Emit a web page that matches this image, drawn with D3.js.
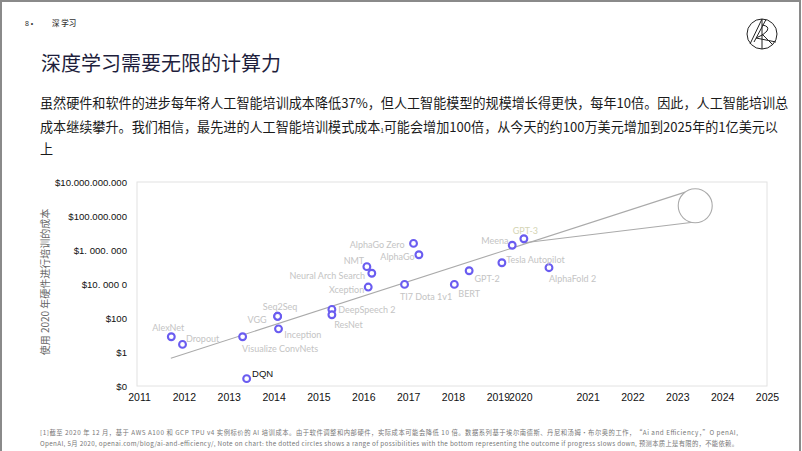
<!DOCTYPE html>
<html><head><meta charset="utf-8">
<script src="https://cdn.jsdelivr.net/npm/d3@7/dist/d3.min.js"></script>
<style>body{margin:0;background:#fff;}svg{display:block;}</style>
</head><body>
<svg id="c" width="802" height="451"></svg>
<script>
// ---- data ----
const models = ["AlexNet","Dropout","Visualize ConvNets","DQN","VGG","Seq2Seq","Inception","DeepSpeech 2","ResNet","Xception","Neural Arch Search","NMT","AlphaGo Zero","AlphaGo","TI7 Dota 1v1","BERT","GPT-2","Tesla Autopilot","Meena","GPT-3","AlphaFold 2"];
const years  = [2011.72,2011.97,2013.31,2013.40,2014.09,2014.09,2014.11,2015.30,2015.30,2016.11,2016.19,2016.08,2017.12,2017.24,2016.92,2018.03,2018.36,2019.09,2019.32,2019.58,2020.14];
const costs  = [7.9,2.8,7.9,0.027,126,126,23,320,155,6600,43000,105000,2450000,525000,9500,9500,60000,178000,1900000,4600000,91000];
const trendYears = [2011.71, 2023.28];
const trendCosts = [0.43, 3.1e9];
const branchYears = [2019.55, 2023.35];
const branchCosts = [2.6e6, 4.3e7];
const projYear = 2023.4, projCost = 4.0e8;
const yTickValues = [1e10,1e8,1e6,1e4,1e2,1,0.01];
const yTickLabels = ["$10.000.000.000","$100.000.000","$1. 000. 000","$10. 000 0","$100","$1","$0"];
const xTickValues = [2011,2012,2013,2014,2015,2016,2017,2018,2019,2019.5,2021,2022,2023,2024,2025];
const xTickLabels = ["2011","2012","2013","2014","2015","2016","2017","2018","2019","2020","2021","2022","2023","2024","2025"];

// label placement (layout only): [dx, dy, anchor]
const place = {
  "AlexNet":[-3,-9.7,"middle"], "Dropout":[3.4,-6.3,"start"], "Visualize ConvNets":[-0.6,11.3,"start"],
  "DQN":[5.4,-4.7,"start"], "VGG":[-11,3.4,"end"], "Seq2Seq":[2.5,-10,"middle"], "Inception":[5.7,5.6,"start"],
  "DeepSpeech 2":[6.3,0,"start"], "ResNet":[2.3,9.6,"start"], "Xception":[-4,2.3,"end"],
  "Neural Arch Search":[-6.7,2.4,"end"], "NMT":[-2.7,-5.7,"end"], "AlphaGo Zero":[-9,1.4,"end"],
  "AlphaGo":[-4.3,2,"end"], "TI7 Dota 1v1":[-4.6,12.4,"start"], "BERT":[4,9,"start"], "GPT-2":[5.3,7.6,"start"],
  "Tesla Autopilot":[4.4,-3.4,"start"], "Meena":[-3.7,-4.3,"end"], "GPT-3":[1.5,-8.7,"middle"], "AlphaFold 2":[0,11,"start"]
};

const svg = d3.select("#c");
svg.append("rect").attr("x",1).attr("y",1).attr("width",799).attr("height",460).attr("fill","none").attr("stroke","#8a8a8a").attr("stroke-width",2);

// header
svg.append("text").attr("x",25).attr("y",26).attr("font-family","Liberation Sans, Arial").attr("font-size",7).attr("fill","#333").text("8 •");
svg.append("text").attr("x",52).attr("y",26).attr("font-family","Noto Sans CJK SC").attr("font-size",7.5).attr("font-weight",500).attr("fill","#333").text("深 学习");

// logo
const lg = svg.append("g").attr("fill","none").attr("stroke","#222").attr("stroke-width",1);
lg.append("circle").attr("cx",762).attr("cy",34).attr("r",15);
lg.append("line").attr("x1",762).attr("y1",19).attr("x2",762).attr("y2",49);
lg.append("line").attr("x1",750).attr("y1",44).attr("x2",762).attr("y2",19);
lg.append("line").attr("x1",754).attr("y1",42).attr("x2",766).attr("y2",19.5);
lg.append("path").attr("d","M762,25 Q770,26 767,31 Q764,35 756,38 L776,42");
lg.append("line").attr("x1",762).attr("y1",34).attr("x2",773).attr("y2",45);

// title
svg.append("text").attr("x",41).attr("y",70.5).attr("font-family","Noto Sans CJK SC").attr("font-size",20).attr("fill","#1e1e3c").text("深度学习需要无限的计算力");

// body
const body = svg.append("g").attr("font-family","Noto Sans CJK SC").attr("font-size",13.1).attr("fill","#1a1a1a");
body.append("text").attr("x",40).attr("y",108).text("虽然硬件和软件的进步每年将人工智能培训成本降低37%，但人工智能模型的规模增长得更快，每年10倍。因此，人工智能培训总");
const l2 = body.append("text").attr("x",40).attr("y",132);
l2.append("tspan").text("成本继续攀升。我们相信，最先进的人工智能培训模式成本");
l2.append("tspan").attr("font-size",6).attr("dy",1).text("1");
l2.append("tspan").attr("dy",-1).text("可能会增加100倍，从今天的约100万美元增加到2025年的1亿美元以");
body.append("text").attr("x",40).attr("y",154).text("上");

// scales
const x = d3.scaleLinear().domain([2011,2025]).range([139,767]);
const y = d3.scaleLog().domain([0.01,1e10]).range([386,182]);

// frame
svg.append("rect").attr("x",137).attr("y",182).attr("width",630).attr("height",204).attr("fill","none").attr("stroke","#e2e2e2").attr("stroke-width",1);

// y axis
const yAxis = d3.axisLeft(y).tickValues(yTickValues).tickSize(0).tickPadding(0)
  .tickFormat((d,i)=>yTickLabels[i]);
const ya = svg.append("g").attr("transform","translate(127,0)").call(yAxis);
ya.select(".domain").remove();
ya.selectAll("text").attr("font-family","Liberation Sans, Arial").attr("font-size",9.6).attr("fill","#111");

// x axis
const xAxis = d3.axisBottom(x).tickValues(xTickValues).tickSize(0).tickPadding(0)
  .tickFormat((d,i)=>xTickLabels[i]);
const xa = svg.append("g").attr("transform","translate(0,394)").call(xAxis);
xa.select(".domain").remove();
xa.selectAll("text").attr("font-family","Liberation Sans, Arial").attr("font-size",10.5).attr("fill","#111");

// y title
svg.append("text").attr("transform","translate(49,282) rotate(-90)").attr("text-anchor","middle")
  .attr("font-family","Noto Sans CJK SC").attr("font-size",10).attr("fill","#666").text("使用 2020 年硬件进行培训的成本");

// trend lines
const line = d3.line().x(d=>x(d[0])).y(d=>y(d[1]));
svg.append("path").attr("d",line(d3.zip(trendYears,trendCosts))).attr("fill","none").attr("stroke","#aaa").attr("stroke-width",1.1);
svg.append("path").attr("d",line(d3.zip(branchYears,branchCosts))).attr("fill","none").attr("stroke","#aaa").attr("stroke-width",1.1);
svg.append("circle").attr("cx",x(projYear)).attr("cy",y(projCost)).attr("r",17).attr("fill","#fff").attr("stroke","#aaa").attr("stroke-width",1.1);

// points
const data = models.map((m,i)=>({m, yr:years[i], c:costs[i]}));
svg.append("g").selectAll("circle").data(data).join("circle")
  .attr("cx",d=>x(d.yr)).attr("cy",d=>y(d.c)).attr("r",3.4)
  .attr("fill","#fff").attr("stroke","#6a5cf0").attr("stroke-width",2.1);

svg.append("g").selectAll("text").data(data).join("text")
  .attr("x",d=>x(d.yr)+place[d.m][0]).attr("y",d=>y(d.c)+place[d.m][1])
  .attr("text-anchor",d=>place[d.m][2]).attr("dominant-baseline","central")
  .attr("font-family",d=>d.m==="DQN"?"Liberation Sans, Arial":"Lato").attr("font-size",d=>d.m==="DQN"?9.5:9)
  .attr("fill",d=>d.m==="DQN"?"#111":(d.m==="GPT-3"?"#d4d4b4":"#c4c4c4"))
  .text(d=>d.m);

// footnote
const fn = svg.append("g").attr("font-family","Noto Sans CJK SC").attr("font-size",6.3).attr("fill","#777");
fn.append("text").attr("x",40).attr("y",434.5).attr("textLength",698).attr("lengthAdjust","spacing")
  .text("[1]截至  2020 年 12 月，基于 AWS A100 和 GCP TPU v4 实例标价的 AI 培训成本。由于软件调整和内部硬件，实际成本可能会降低 10 倍。数据系列基于埃尔南德斯、丹尼和汤姆·布尔奥的工作，\u201cAi and Efficiency，\u201dO penAI,");
fn.append("text").attr("x",40).attr("y",446).attr("textLength",698).attr("lengthAdjust","spacing")
  .text("OpenAI, 5月 2020,  openai.com/blog/ai-and-efficiency/, Note on chart:  the dotted circles shows a range of possibilities with the bottom representing the outcome if progress slows down, 预测本质上是有限的，不能依赖。");
</script>
</body></html>
